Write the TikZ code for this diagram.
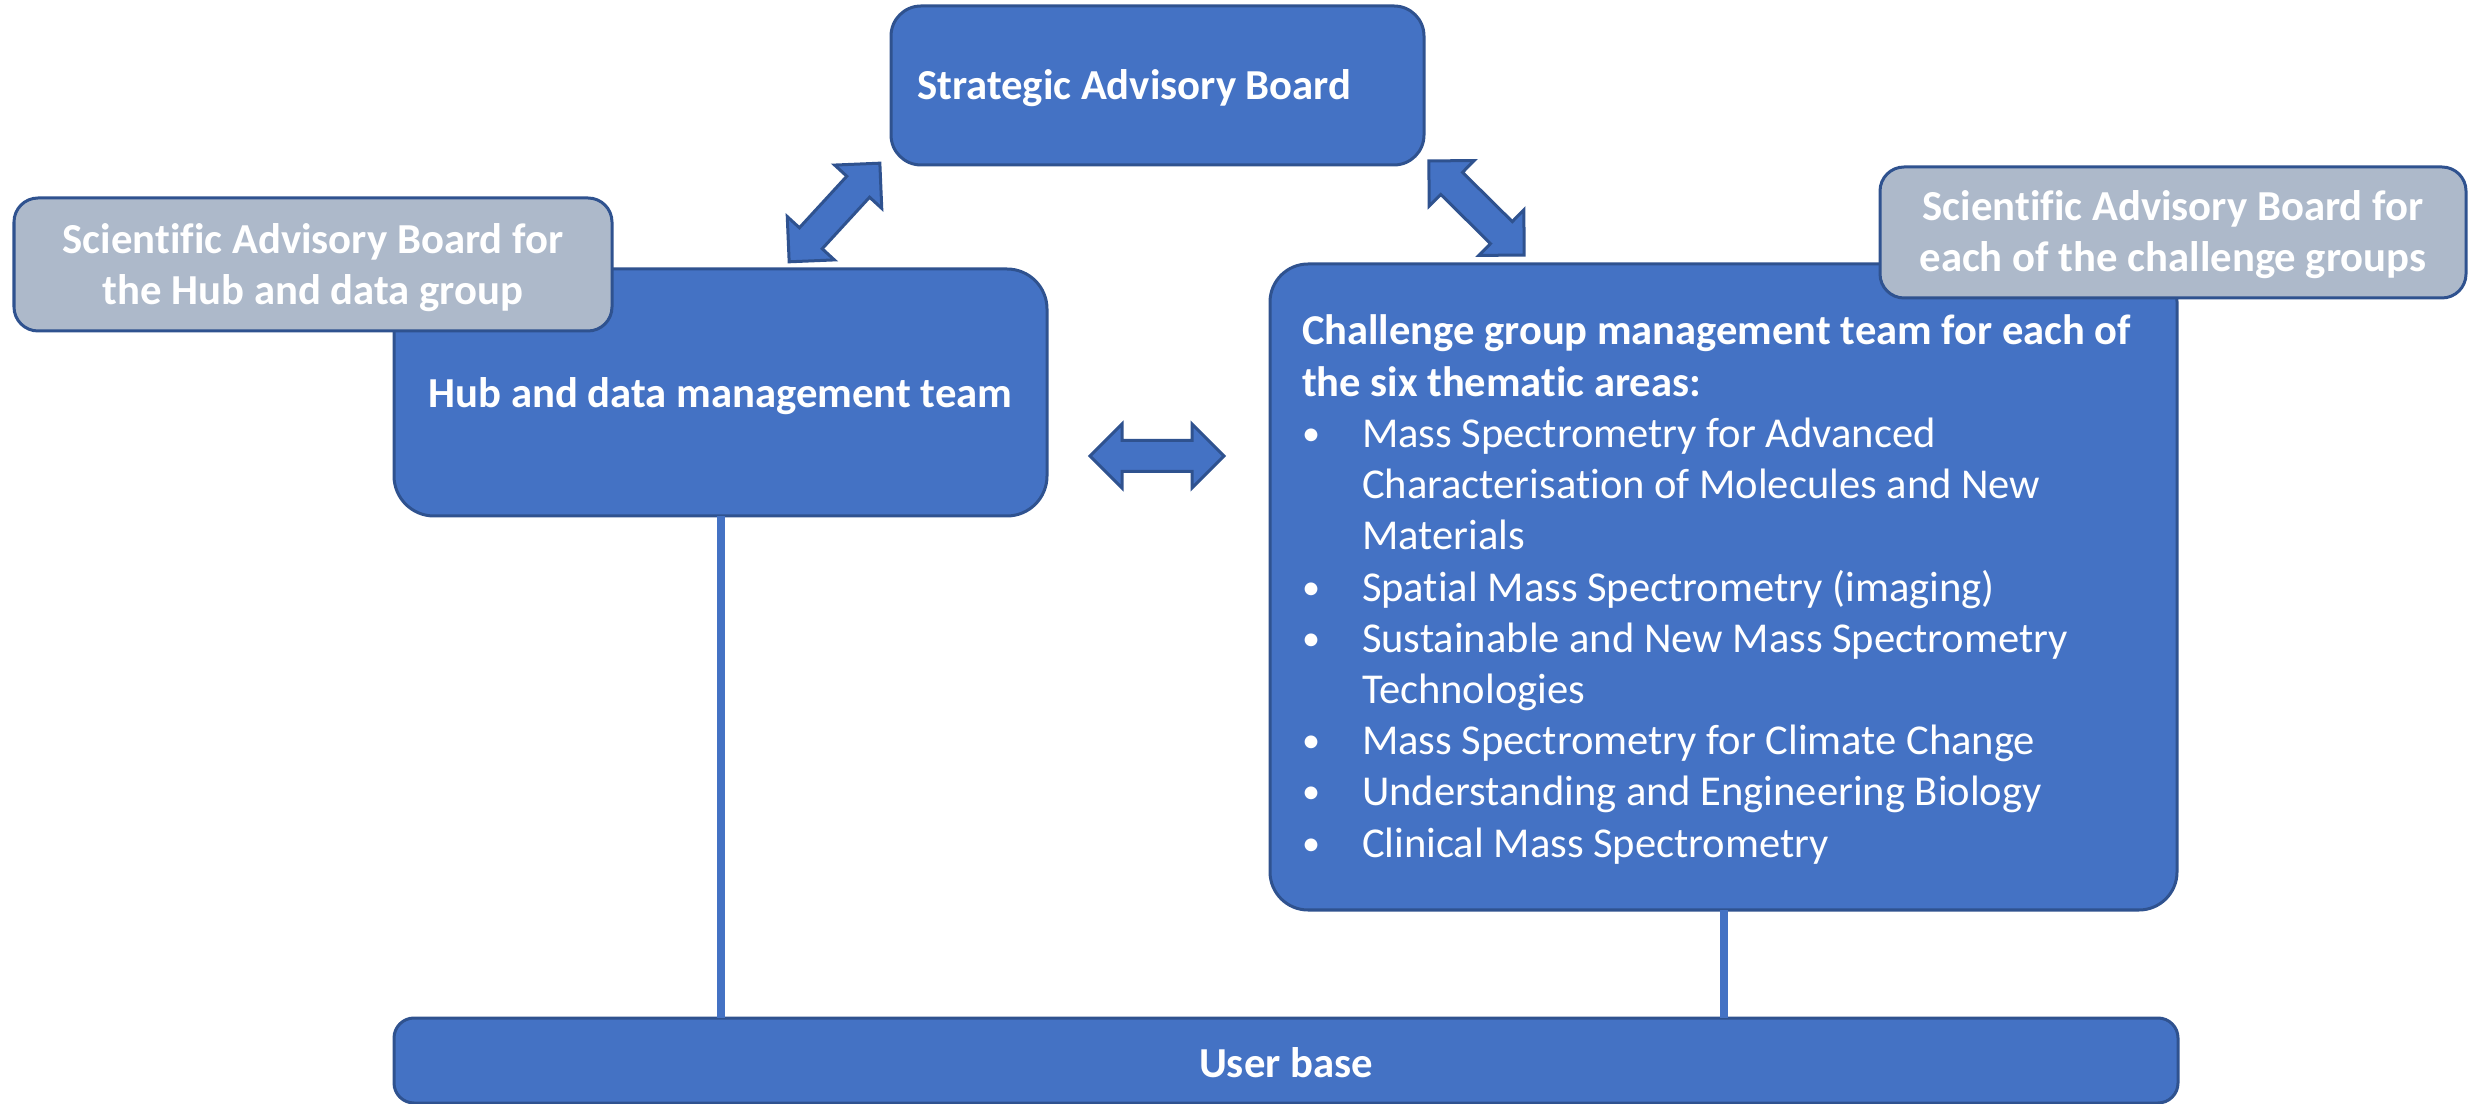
\documentclass[tikz,border=0pt]{standalone}
\usepackage{fontspec}
\setmainfont{Carlito}[Ligatures=NoCommon]
\usetikzlibrary{fit}
\definecolor{boxblue}{HTML}{4472C4}
\definecolor{edgeblue}{HTML}{2F528F}
\definecolor{advgray}{HTML}{ADB9CA}
\newcommand\myblt{\makebox[0.6cm][l]{\raisebox{0.02cm}{\scalebox{0.85}{•}}}}
\newcommand\myind{\hspace*{0.6cm}}
\begin{document}
\begin{tikzpicture}[x=0.01cm,y=-0.01cm,
  bluebox/.style={rectangle, draw=edgeblue, fill=boxblue, line width=0.03cm, inner sep=0pt, outer sep=0pt},
  advbox/.style={bluebox, fill=advgray},
  txt/.style={text=white, inner sep=0pt, outer sep=0pt, font=\fontsize{12.1}{14.56}\selectfont},
  btxt/.style={txt, font=\fontsize{12.15}{14.23}\selectfont\bfseries},
  conn/.style={draw=boxblue, line width=0.08cm},
  dblarrow/.style={draw=edgeblue, fill=boxblue, line width=0.03cm, line join=miter}]
\useasboundingbox (0,0) rectangle (2470,1104);

% boxes
\node[bluebox, rounded corners=0.3cm, fit={(891,6)(1424,165)}] (sab) {};
\node[bluebox, rounded corners=0.4cm, fit={(394,269)(1047,516)}] (hub) {};
\node[bluebox, rounded corners=0.38cm, fit={(1270,264)(2177,910)}] (chal) {};
\node[bluebox, rounded corners=0.2cm, fit={(394,1018)(2178,1103)}] (user) {};

% connectors
\draw[conn] (hub.south) -- (hub.south |- user.north);
\draw[conn] (chal.south) -- (chal.south |- user.north);

% advisory boards (on top)
\node[advbox, rounded corners=0.24cm, fit={(14,198)(612,331)}] (hubadv) {};
\node[advbox, rounded corners=0.24cm, fit={(1880,167)(2466,298)}] (chaladv) {};

% block arrows
\begin{scope}[shift={(834.5,212.5)}, rotate=47.4]
  \draw[dblarrow] (-67,0) -- (-35,-32) -- (-35,-15.5) -- (35,-15.5) -- (35,-32) -- (67,0)
    -- (35,32) -- (35,15.5) -- (-35,15.5) -- (-35,32) -- cycle;
\end{scope}
\begin{scope}[shift={(1476.5,208)}, rotate=-44.7]
  \draw[dblarrow] (-67,0) -- (-35,-32) -- (-35,-15.5) -- (35,-15.5) -- (35,-32) -- (67,0)
    -- (35,32) -- (35,15.5) -- (-35,15.5) -- (-35,32) -- cycle;
\end{scope}
\begin{scope}[shift={(1157,456)}]
  \draw[dblarrow] (-67,0) -- (-35,-32) -- (-35,-15.5) -- (35,-15.5) -- (35,-32) -- (67,0)
    -- (35,32) -- (35,15.5) -- (-35,15.5) -- (-35,32) -- cycle;
\end{scope}

% texts
\node[btxt, anchor=base west] (sabtxt) at (917,100) {Strategic Advisory Board};
\node[btxt, anchor=base] (hubtxt) at (720.5,408) {Hub and data management team};
\node[btxt, anchor=base] (usertxt) at (1286,1077) {User base};
\node[btxt, anchor=base] (hubadvtxt) at (313,254)
  {\begin{tabular}[t]{@{}c@{}}Scientific Advisory Board for\\the Hub and data group\end{tabular}};
\node[btxt, anchor=base] (chaladvtxt) at (2173,221)
  {\begin{tabular}[t]{@{}c@{}}Scientific Advisory Board for\\each of the challenge groups\end{tabular}};
\node[txt, anchor=base west] (chaltxt) at (1302,345)
  {\begin{tabular}[t]{@{}l@{}}
   \textbf{Challenge group management team for each of}\\
   \textbf{the six thematic areas:}\\
   \myblt Mass Spectrometry for Advanced\\
   \myind Characterisation of Molecules and New\\
   \myind Materials\\
   \myblt Spatial Mass Spectrometry (imaging)\\
   \myblt Sustainable and New Mass Spectrometry\\
   \myind Technologies\\
   \myblt Mass Spectrometry for Climate Change\\
   \myblt Understanding and Engineering Biology\\
   \myblt Clinical Mass Spectrometry
  \end{tabular}};
\end{tikzpicture}
\end{document}
